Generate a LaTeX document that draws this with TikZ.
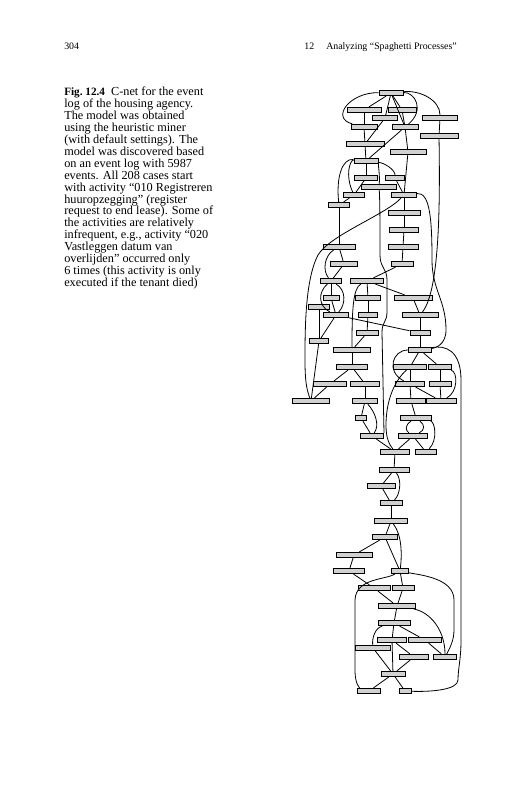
\documentclass[tikz,border=0pt]{standalone}
\usepackage{fontspec}
\setmainfont{Liberation Serif}
\newcommand\captfont{\fontsize{9.2}{8.93}\selectfont\lineskiplimit=-10pt\relax}

\begin{document}
\begin{tikzpicture}[
    x=0.75pt, y=-0.75pt,
    act/.style={draw, line width=0.75pt, fill=black!18, inner sep=0pt,
                minimum width=#1*0.75pt, minimum height=3.9pt},
    ed/.style={line width=0.6pt},
    head/.style={inner sep=0pt, font=\fontsize{7.4}{9}\selectfont},
  ]
    \useasboundingbox (0,0) rectangle (527,800);
    \fill[white] (0,0) rectangle (527,800);

    % running head
    \node[head, anchor=base west] (pgno) at (64,49) {304};
    \node[head, anchor=base east] (rhead) at (457,49)
      {12\hspace{9pt}Analyzing “Spaghetti Processes”};

    % caption
    \node[anchor=north west, inner sep=0pt, align=left,
          font=\captfont] (capt) at (64,87)
      {{\fontsize{8.4}{8.93}\selectfont\textbf{Fig.\ 12.4}}\enspace C-net for the event\\
       log of the housing agency.\\
       The model was obtained\\
       using the heuristic miner\\
       (with default settings). The\\
       model was discovered based\\
       on an event log with 5987\\
       events. All 208 cases start\\
       with activity “010 Registreren\\
       huuropzegging” (register\\
       request to end lease). Some of\\
       the activities are relatively\\
       infrequent, e.g., activity “020\\
       Vastleggen datum van\\
       overlijden” occurred only\\
       6 times (this activity is only\\
       executed if the tenant died)};

    % activities
    \node[act=24] (a1)  at (391,93)  {};
    \node[act=34] (a2)  at (364,110) {};
    \node[act=28] (a3)  at (402,110) {};
    \node[act=25] (a4)  at (385,118) {};
    \node[act=35] (a5)  at (440,118) {};
    \node[act=26] (a6)  at (364,127) {};
    \node[act=26] (a7)  at (405,127) {};
    \node[act=38] (a8)  at (439,136) {};
    \node[act=38] (a9)  at (365,144) {};
    \node[act=36] (a10) at (408,152) {};
    \node[act=24] (a11) at (366,161) {};
    \node[act=23] (a12) at (366,178) {};
    \node[act=19] (a13) at (395,178) {};
    \node[act=35] (a14) at (379,187) {};
    \node[act=21] (a15) at (354,195) {};
    \node[act=25] (a16) at (404,195) {};
    \node[act=21] (a17) at (339,205) {};
    \node[act=32] (a18) at (404,213) {};
    \node[act=29] (a19) at (404,230) {};
    \node[act=32] (a20) at (339,247) {};
    \node[act=30] (a21) at (403,247) {};
    \node[act=27] (a22) at (344,264) {};
    \node[act=22] (a23) at (402,264) {};
    \node[act=21] (a24) at (331,281) {};
    \node[act=33] (a25) at (367,281) {};
    \node[act=16] (a26) at (331,298) {};
    \node[act=25] (a27) at (368,298) {};
    \node[act=38] (a28) at (413,298) {};
    \node[act=21] (a29) at (319,307) {};
    \node[act=25] (a30) at (336,315) {};
    \node[act=19] (a31) at (368,315) {};
    \node[act=36] (a32) at (420,315) {};
    \node[act=22] (a34) at (367,333) {};
    \node[act=20] (a35) at (420,333) {};
    \node[act=19] (a33) at (319,341) {};
    \node[act=37] (a36) at (352,350) {};
    \node[act=23] (a37) at (420,350) {};
    \node[act=31] (a38) at (352,367) {};
    \node[act=33] (a39) at (410,367) {};
    \node[act=23] (a40) at (440,367) {};
    \node[act=33] (a41) at (330,384) {};
    \node[act=29] (a42) at (365,384) {};
    \node[act=29] (a43) at (410,384) {};
    \node[act=22] (a44) at (440,384) {};
    \node[act=37] (a45) at (311,401) {};
    \node[act=25] (a46) at (365,401) {};
    \node[act=29] (a47) at (411,401) {};
    \node[act=30] (a48) at (441,401) {};
    \node[act=11] (a49) at (361,418) {};
    \node[act=31] (a50) at (416,418) {};
    \node[act=23] (a51) at (372,436) {};
    \node[act=29] (a52) at (413,436) {};
    \node[act=29] (a53) at (395,452) {};
    \node[act=21] (a54) at (426,452) {};
    \node[act=30] (a55) at (394,470) {};
    \node[act=28] (a56) at (381,486) {};
    \node[act=22] (a57) at (391,503) {};
    \node[act=33] (a58) at (391,521) {};
    \node[act=25] (a59) at (385,537) {};
    \node[act=36] (a60) at (354,555) {};
    \node[act=31] (a61) at (349,571) {};
    \node[act=17] (a62) at (400,571) {};
    \node[act=32] (a63) at (374,588) {};
    \node[act=22] (a64) at (403,588) {};
    \node[act=37] (a65) at (397,606) {};
    \node[act=32] (a66) at (394,623) {};
    \node[act=29] (a67) at (392,640) {};
    \node[act=33] (a68) at (425,640) {};
    \node[act=35] (a69) at (373,648) {};
    \node[act=29] (a70) at (414,657) {};
    \node[act=23] (a71) at (445,657) {};
    \node[act=24] (a72) at (393,674) {};
    \node[act=23] (a73) at (369,691) {};
    \node[act=12] (a74) at (405,691) {};

    % dependencies, top part
    \draw[ed] (a1) -- (a2);
    \draw[ed] (a1) -- (a3);
    \draw[ed] (a1) -- (a4);
    \draw[ed] (a1) -- (a7);
    \draw[ed] (a1) .. controls (350,92) and (330,118) .. (a6);
    \draw[ed] (a1) .. controls (415,92) and (425,110) .. (a7);
    \draw[ed] (a1) .. controls (420,90) and (440,100) .. (a5);
    \draw[ed] (a2) -- (a6);
    \draw[ed] (a3) -- (a7);
    \draw[ed] (a4) -- (a9);
    \draw[ed] (a5) -- (a8);
    \draw[ed] (a6) -- (a9);
    \draw[ed] (a7) -- (a10);
    \draw[ed] (a7) -- (a11);
    \draw[ed] (a9) -- (a11);
    \draw[ed] (a10) -- (a16);
    \draw[ed] (a11) -- (a12);
    \draw[ed] (a11) .. controls (385,163) and (395,170) .. (a13);
    \draw[ed] (a11) .. controls (350,160) and (345,175) .. (a15);
    \draw[ed] (a11) .. controls (342,158) and (336,178) .. (a17);
    \draw[ed] (a11) .. controls (378,164) and (380,175) .. (a14);
    \draw[ed] (a12) -- (a15);
    \draw[ed] (a13) -- (a16);
    \draw[ed] (a15) -- (a17);
    \draw[ed] (a17) -- (a20);
    \draw[ed] (a16) -- (a18);
    \draw[ed] (a18) -- (a19);
    \draw[ed] (a19) -- (a21);
    \draw[ed] (a21) -- (a23);
    \draw[ed] (a23) -- (a25);

    % long loops
    \draw[ed] (a8) .. controls (440,200) and (440,290) .. (a32);
    \draw[ed] (a16) .. controls (430,192) and (432,220) .. (432,260)
      .. controls (432,290) and (446,300) .. (446,330)
      .. controls (446,345) and (435,348) .. (a37);
    \draw[ed] (a16) .. controls (385,215) and (330,235) .. (318,255)
      .. controls (305,280) and (305,330) .. (305,360)
      .. controls (305,378) and (306,388) .. (a45);
    \draw[ed] (a14) .. controls (380,200) and (380,230) .. (380,255)
      .. controls (380,268) and (387,268) .. (387,280) -- (387,312)
      .. controls (387,322) and (382,322) .. (382,332) -- (a51.north east);
    \draw[ed] (a37) .. controls (445,345) and (461,350) .. (461,380)
      -- (461,640) .. controls (461,660) and (458,668) .. (458,680)
      .. controls (458,690) and (430,692) .. (a74);

    % middle part
    \draw[ed] (a20) -- (a22);
    \draw[ed] (a20) .. controls (325,255) and (322,270) .. (a24);
    \draw[ed] (a22) -- (a24);
    \draw[ed] (a24) -- (a26);
    \draw[ed] (a26) -- (a30);
    \draw[ed] (a24) .. controls (318,292) and (318,306) .. (a30);
    \draw[ed] (a24) .. controls (346,290) and (346,304) .. (a30);
    \draw[ed] (a25) -- (a27);
    \draw[ed] (a25) -- (a28);
    \draw[ed] (a25) .. controls (353,288) and (352,310) .. (a36);
    \draw[ed] (a27) -- (a31);
    \draw[ed] (a31) -- (a34);
    \draw[ed] (a28) -- (a32);
    \draw[ed] (a32) -- (a35);
    \draw[ed] (a30) -- (a35);
    \draw[ed] (a30) -- (a33);
    \draw[ed] (a29) -- (a33);
    \draw[ed] (a34) -- (a36);
    \draw[ed] (a33) -- (a45);
    \draw[ed] (a36) -- (a38);
    \draw[ed] (a38) -- (a41);
    \draw[ed] (a38) -- (a42);
    \draw[ed] (a41) -- (a45);
    \draw[ed] (a42) -- (a46);
    \draw[ed] (a35) -- (a37);
    \draw[ed] (a37) -- (a39);
    \draw[ed] (a37) -- (a40);
    \draw[ed] (a37) .. controls (392,350) and (386,372) .. (a43);
    \draw[ed] (a39) -- (a43);
    \draw[ed] (a40) -- (a44);
    \draw[ed] (a40) .. controls (458,372) and (458,392) .. (a48);
    \draw[ed] (a43) -- (a47);
    \draw[ed] (a43) -- (a48);
    \draw[ed] (a44) -- (a48);
    \draw[ed] (a39) .. controls (395,380) and (386,400) .. (386,425)
      .. controls (386,440) and (390,445) .. (a53);
    \draw[ed] (a47) -- (a50);
    \draw[ed] (a50) .. controls (405,425) and (405,430) .. (a52);
    \draw[ed] (a50) .. controls (425,425) and (425,430) .. (a52);
    \draw[ed] (a50) .. controls (435,422) and (438,440) .. (a54);
    \draw[ed] (a52) -- (a53);
    \draw[ed] (a52) -- (a54);
    \draw[ed] (a46) -- (a49);
    \draw[ed] (a49) -- (a51);
    \draw[ed] (a46) .. controls (375,412) and (380,425) .. (a51);
    \draw[ed] (a51) -- (a53);

    % bottom part
    \draw[ed] (a53) -- (a55);
    \draw[ed] (a55) -- (a56);
    \draw[ed] (a55) .. controls (402,480) and (400,495) .. (a57);
    \draw[ed] (a56) -- (a57);
    \draw[ed] (a57) -- (a58);
    \draw[ed] (a58) -- (a59);
    \draw[ed] (a58) .. controls (402,535) and (402,555) .. (a62);
    \draw[ed] (a59) -- (a60);
    \draw[ed] (a59) -- (a62);
    \draw[ed] (a60) -- (a61);
    \draw[ed] (a61) -- (a63);
    \draw[ed] (a62) -- (a64);
    \draw[ed] (a63) -- (a65);
    \draw[ed] (a64) -- (a65);
    \draw[ed] (a62) .. controls (385,580) and (356,578) .. (355,600)
      -- (355,670) .. controls (355,685) and (360,688) .. (a73);
    \draw[ed] (a62) .. controls (420,575) and (454,578) .. (454,600)
      -- (454,630) .. controls (454,640) and (450,648) .. (a71);
    \draw[ed] (a65) -- (a66);
    \draw[ed] (a65) .. controls (430,612) and (445,630) .. (a71);
    \draw[ed] (a66) -- (a67);
    \draw[ed] (a66) -- (a68);
    \draw[ed] (a66) .. controls (375,628) and (372,638) .. (a69);
    \draw[ed] (a67) -- (a70);
    \draw[ed] (a67) -- (a72);
    \draw[ed] (a68) -- (a71);
    \draw[ed] (a69) -- (a72);
    \draw[ed] (a70) -- (a72);
    \draw[ed] (a72) -- (a73);
    \draw[ed] (a72) -- (a74);
  \end{tikzpicture}
\end{document}
